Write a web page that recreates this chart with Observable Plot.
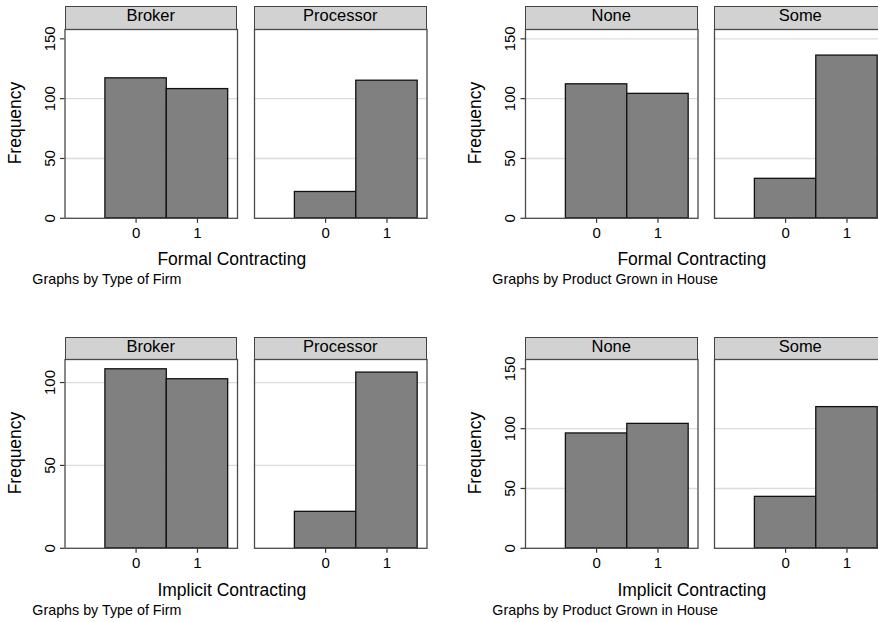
<!DOCTYPE html>
<html><head><meta charset="utf-8">
<script src="https://cdn.jsdelivr.net/npm/d3@7"></script>
<script src="https://cdn.jsdelivr.net/npm/@observablehq/plot@0.6"></script>
<style>
html,body{margin:0;padding:0;background:#fff;overflow:hidden}
#root{position:relative;width:878px;height:622px;overflow:hidden;font-family:"Liberation Sans",Arial,Helvetica,sans-serif;color:#000;background:#fff}
.abs{position:absolute;white-space:nowrap;line-height:1}
.hdr{position:absolute;box-sizing:border-box;background:#d2d2d2;border:1.3px solid #444}
.wrap{position:absolute}
.wrap svg{max-width:none;overflow:visible}
</style></head><body><div id="root"></div>
<script>
// ---- data ----
const xValues = [0, 1];
const xTicks = [0, 1];
const firmTypes = ["Broker", "Processor"];
const grownTypes = ["None", "Some"];
const formalBroker = [117, 108];
const formalProcessor = [22, 115];
const formalNone = [112, 104];
const formalSome = [33, 136];
const implicitBroker = [108, 102];
const implicitProcessor = [22, 106];
const implicitNone = [96, 104];
const implicitSome = [43, 118];
const yTicksWide = [0, 50, 100, 150];
const yTicksNarrow = [0, 50, 100];

// ---- layout ----
const FONT = '"Liberation Sans", Arial, Helvetica, sans-serif';
const FACET_W = 172.5;
const PLOT_H = 188.8;
const xDomain = [-1.158, 1.652];
const root = document.getElementById("root");

function addText(text, {left, top, size, anchor = "start", rotate = false}) {
  const d = document.createElement("div");
  d.className = "abs";
  d.textContent = text;
  d.style.fontSize = size + "px";
  d.style.left = left + "px";
  d.style.top = top + "px";
  if (rotate) d.style.transform = "translate(-50%,-50%) rotate(-90deg)";
  else if (anchor === "middle") d.style.transform = "translateX(-50%)";
  root.appendChild(d);
}

function facetPlot({values, yDomain, yTicks, gridTicks, withAxis, axisMargin}) {
  const data = xValues.map((x, i) => ({x, count: values[i]}));
  const mL = withAxis ? axisMargin : 2;
  return {mL, svg: Plot.plot({
    width: FACET_W + mL + 2,
    height: PLOT_H + 2 + 30,
    marginLeft: mL, marginRight: 2, marginTop: 2, marginBottom: 30,
    x: {domain: xDomain, axis: null},
    y: {domain: yDomain, axis: null},
    style: {fontFamily: FONT, fontSize: "15px", background: "transparent", color: "#000", overflow: "visible"},
    marks: [
      Plot.gridY(gridTicks, {stroke: "#dcdcdc", strokeOpacity: 1, strokeWidth: 1.3}),
      Plot.rectY(data, {x1: d => d.x - 0.5, x2: d => d.x + 0.5, y: "count", fill: "#808080", stroke: "#111", strokeWidth: 1.3}),
      Plot.axisX(xTicks, {tickSize: 5, tickPadding: 4.3, label: null, stroke: "#333", strokeWidth: 1.2}),
      withAxis ? Plot.axisY(yTicks, {tickSize: 4.5, tickPadding: 6, tickRotate: -90, label: null, stroke: "#333", strokeWidth: 1.2}) : null,
      Plot.frame({stroke: "#4a4a4a", strokeWidth: 1.3})
    ]
  })};
}

function panel(cfg) {
  cfg.facets.forEach((name, i) => {
    const left = cfg.facetLefts[i];
    // header strip
    const h = document.createElement("div");
    h.className = "hdr";
    h.style.left = left + "px";
    h.style.top = cfg.headerTop + "px";
    h.style.width = FACET_W + "px";
    h.style.height = (cfg.plotTop - cfg.headerTop + 0.6) + "px";
    root.appendChild(h);
    addText(name, {left: left + FACET_W / 2, top: cfg.headerTop + 15 - 0.8465 * 16.5, size: 16.5, anchor: "middle"});
    // chart
    const {mL, svg} = facetPlot({
      values: cfg.values[i], yDomain: cfg.yDomain, yTicks: cfg.yTicks, gridTicks: cfg.grid,
      withAxis: i === 0, axisMargin: cfg.axisMargin
    });
    const w = document.createElement("div");
    w.className = "wrap";
    w.style.left = (left - mL) + "px";
    w.style.top = (cfg.plotTop - 2) + "px";
    w.appendChild(svg);
    root.appendChild(w);
  });
  addText("Frequency", {left: cfg.yLabelX, top: cfg.plotTop + PLOT_H / 2, size: 17.5, rotate: true});
  addText(cfg.xTitle, {left: cfg.xTitleX, top: cfg.xTitleBase - 0.8465 * 17.5, size: 17.5, anchor: "middle"});
  addText(cfg.caption, {left: cfg.captionX, top: cfg.xTitleBase + 18.6 - 0.8465 * 14.3, size: 14.3});
}

panel({facets: firmTypes, values: [formalBroker, formalProcessor], facetLefts: [64.5, 254],
  headerTop: 6, plotTop: 29, yDomain: [0, 157.8], yTicks: yTicksWide, grid: [50, 100], axisMargin: 64.5,
  yLabelX: 16, xTitle: "Formal Contracting", xTitleX: 231.8, xTitleBase: 265.7,
  caption: "Graphs by Type of Firm", captionX: 32.3});
panel({facets: grownTypes, values: [formalNone, formalSome], facetLefts: [525, 714],
  headerTop: 6, plotTop: 29, yDomain: [0, 157.8], yTicks: yTicksWide, grid: [50, 100, 150], axisMargin: 85,
  yLabelX: 475.5, xTitle: "Formal Contracting", xTitleX: 691.8, xTitleBase: 265.7,
  caption: "Graphs by Product Grown in House", captionX: 492.3});
panel({facets: firmTypes, values: [implicitBroker, implicitProcessor], facetLefts: [64.5, 254],
  headerTop: 336.7, plotTop: 359, yDomain: [0, 113.9], yTicks: yTicksNarrow, grid: [50, 100], axisMargin: 64.5,
  yLabelX: 16, xTitle: "Implicit Contracting", xTitleX: 231.8, xTitleBase: 596.7,
  caption: "Graphs by Type of Firm", captionX: 32.3});
panel({facets: grownTypes, values: [implicitNone, implicitSome], facetLefts: [525, 714],
  headerTop: 336.7, plotTop: 359, yDomain: [0, 157.8], yTicks: yTicksWide, grid: [50, 100], axisMargin: 85,
  yLabelX: 475.5, xTitle: "Implicit Contracting", xTitleX: 691.8, xTitleBase: 596.7,
  caption: "Graphs by Product Grown in House", captionX: 492.3});
</script></body></html>
